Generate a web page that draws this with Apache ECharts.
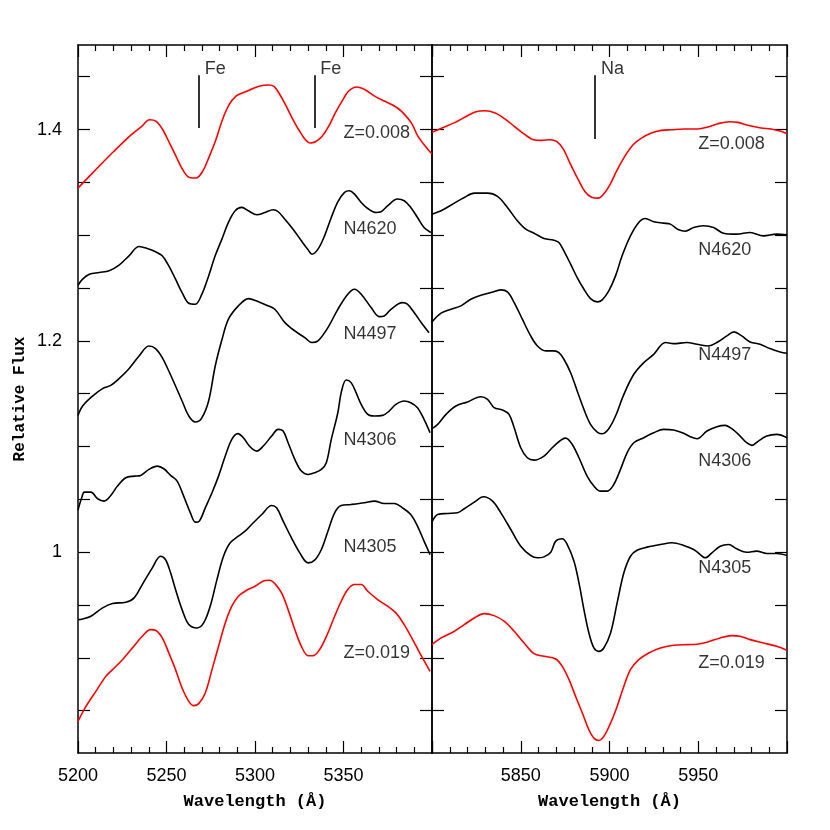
<!DOCTYPE html>
<html>
<head>
<meta charset="utf-8">
<script src="https://cdn.jsdelivr.net/npm/echarts@6/dist/echarts.min.js"></script>
<style>html,body{margin:0;padding:0;background:#fff}#c{width:830px;height:830px}</style>
</head>
<body>
<div id="c"></div>
<script>
// ---- data: [wavelength (Å), relative flux] ----
const leftZ008 = [[5200,1.3446],[5210,1.362],[5220,1.379],[5230,1.395],[5236,1.403],[5240.4,1.4093],[5244.2,1.4078],[5247.9,1.3998],[5251.7,1.3872],[5255.4,1.3746],[5259.2,1.3619],[5262.9,1.3547],[5266.7,1.3541],[5270.4,1.3604],[5274.2,1.3746],[5277.9,1.3903],[5281.6,1.4093],[5285.4,1.4235],[5289.1,1.4314],[5292.9,1.4346],[5296.6,1.4371],[5302.2,1.4409],[5307.9,1.4422],[5310.7,1.4409],[5313.5,1.4346],[5317.2,1.4235],[5321.0,1.4109],[5324.7,1.3998],[5328.5,1.3903],[5331.3,1.3872],[5334.1,1.3884],[5337.8,1.3935],[5341.6,1.4030],[5345.3,1.4156],[5349.1,1.4267],[5352.8,1.4362],[5357.5,1.4403],[5362.2,1.4377],[5367.8,1.4314],[5373.4,1.4267],[5379.0,1.4220],[5382.8,1.4172],[5388.4,1.4061],[5392.1,1.3935],[5397.8,1.3809],[5400,1.377]];
const leftN4620 = [[5200,1.2527],[5202.6,1.2584],[5206.4,1.2631],[5212.0,1.2647],[5217.6,1.2663],[5223.2,1.2716],[5228.8,1.2805],[5234.5,1.2893],[5239.1,1.2874],[5243.8,1.2843],[5247.6,1.2805],[5251.3,1.2710],[5255.1,1.2584],[5258.8,1.2457],[5262.6,1.2356],[5266.3,1.2347],[5270.0,1.2442],[5273.8,1.2615],[5277.5,1.2805],[5281.3,1.2963],[5285.0,1.3121],[5288.8,1.3231],[5292.5,1.3263],[5296.3,1.3231],[5301.0,1.3193],[5305.6,1.3215],[5310.3,1.3241],[5313.1,1.3222],[5316.9,1.3152],[5321.5,1.3057],[5326.2,1.2947],[5330.0,1.2862],[5332.2,1.2820],[5335.6,1.2868],[5339.3,1.2994],[5343.1,1.3168],[5346.8,1.3316],[5350.6,1.3405],[5353.4,1.3421],[5356.2,1.3389],[5360.0,1.3310],[5363.7,1.3253],[5368.4,1.3215],[5371.2,1.3222],[5374.9,1.3278],[5380.5,1.3342],[5384.3,1.3326],[5388.0,1.3263],[5391.8,1.3168],[5395.5,1.3073],[5399.3,1.3026]];
const leftN4497 = [[5200,1.1295],[5202.6,1.1384],[5208.2,1.1478],[5213.9,1.1548],[5218.5,1.1579],[5223.2,1.1643],[5228.8,1.1737],[5234.5,1.1857],[5240.1,1.1952],[5243.8,1.1927],[5247.6,1.1842],[5251.3,1.1715],[5255.1,1.1573],[5258.8,1.1431],[5262.6,1.1289],[5266.3,1.1232],[5269.7,1.1264],[5273.8,1.1431],[5277.5,1.1760],[5281.3,1.2010],[5285.0,1.2205],[5290.6,1.2331],[5296.3,1.2400],[5301.0,1.2378],[5306.6,1.2337],[5311.2,1.2299],[5316.9,1.2173],[5322.5,1.2094],[5328.1,1.2031],[5332.2,1.1984],[5335.6,1.2000],[5341.2,1.2126],[5346.8,1.2299],[5352.4,1.2442],[5356.2,1.2489],[5360.0,1.2442],[5365.6,1.2315],[5370.2,1.2230],[5373.0,1.2236],[5376.8,1.2299],[5383.3,1.2362],[5386.1,1.2347],[5389.9,1.2268],[5394.6,1.2157],[5398.3,1.2078]];
const leftN4306 = [[5200,1.040],[5202.0,1.0510],[5203.6,1.0569],[5207.3,1.0569],[5211.1,1.0506],[5214.8,1.0484],[5218.5,1.0537],[5222.3,1.0626],[5227.0,1.0705],[5231.7,1.0720],[5235.4,1.0727],[5240.1,1.0784],[5244.8,1.0815],[5248.5,1.0790],[5252.3,1.0727],[5256.0,1.0673],[5259.7,1.0531],[5263.5,1.0373],[5266.3,1.0285],[5268.5,1.0294],[5271.9,1.0420],[5275.7,1.0563],[5279.4,1.0720],[5283.2,1.0910],[5286.9,1.1068],[5290.3,1.1122],[5293.4,1.1084],[5297.2,1.0998],[5301.0,1.0957],[5304.7,1.1005],[5309.4,1.1099],[5313.1,1.1163],[5315.9,1.1147],[5318.7,1.1036],[5322.5,1.0878],[5326.2,1.0768],[5330.0,1.0736],[5333.7,1.0752],[5337.5,1.0784],[5340.3,1.0847],[5343.1,1.1068],[5346.8,1.1320],[5348.7,1.1510],[5351.5,1.1630],[5354.3,1.1605],[5357.1,1.1510],[5360.0,1.1399],[5363.7,1.1305],[5367.4,1.1289],[5372.1,1.1295],[5375.8,1.1336],[5379.6,1.1399],[5384.3,1.1431],[5388.0,1.1415],[5391.8,1.1368],[5395.5,1.1257],[5398.9,1.1131]];
const leftN4305 = [[5200,0.9362],[5202.6,0.9369],[5207.3,0.9394],[5213.9,0.9473],[5219.5,0.9514],[5227.0,0.9527],[5231.7,0.9568],[5236.3,0.9694],[5242.0,0.9852],[5246.6,0.9962],[5249.4,0.9931],[5252.3,0.9805],[5255.1,0.9647],[5258.8,0.9457],[5262.6,0.9315],[5267.2,0.9283],[5271.0,0.9331],[5274.7,0.9489],[5278.5,0.9741],[5282.2,0.9962],[5286.0,1.0089],[5290.6,1.0152],[5294.4,1.0199],[5298.1,1.0262],[5303.8,1.0357],[5309.4,1.0442],[5312.2,1.0420],[5315.9,1.0294],[5320.6,1.0136],[5325.3,0.9994],[5330.0,0.9899],[5333.7,0.9925],[5337.5,1.0026],[5341.2,1.0199],[5345.0,1.0373],[5348.7,1.0442],[5354.3,1.0452],[5361.8,1.0468],[5367.4,1.0484],[5373.0,1.0461],[5378.7,1.0461],[5383.3,1.0420],[5388.0,1.0357],[5391.8,1.0247],[5395.5,1.0105],[5398.9,0.9978]];
const leftZ019 = [[5200,0.8399],[5204.5,0.8541],[5210.1,0.8683],[5215.7,0.8825],[5219.5,0.8889],[5225.1,0.8983],[5230.7,0.9094],[5236.3,0.9205],[5241.0,0.9268],[5243.8,0.9261],[5247.6,0.9189],[5251.3,0.9047],[5255.1,0.8889],[5258.8,0.8715],[5262.6,0.8589],[5265.4,0.8548],[5268.2,0.8567],[5271.9,0.8668],[5275.7,0.8889],[5279.4,0.9110],[5283.2,0.9331],[5286.9,0.9489],[5290.6,0.9583],[5294.4,0.9631],[5300.0,0.9678],[5305.6,0.9732],[5308.4,0.9735],[5311.2,0.9703],[5315.0,0.9615],[5318.7,0.9457],[5322.5,0.9268],[5326.2,0.9110],[5330.0,0.9021],[5332.8,0.9021],[5336.5,0.9078],[5341.2,0.9236],[5345.0,0.9394],[5348.7,0.9536],[5352.4,0.9647],[5356.2,0.9694],[5360.0,0.9694],[5363.7,0.9631],[5369.3,0.9552],[5374.9,0.9489],[5379.6,0.9426],[5384.3,0.9315],[5388.0,0.9205],[5393.6,0.9031],[5398.9,0.8873]];

const rightZ008 = [[5800,1.3973],[5805.6,1.4014],[5813.1,1.4068],[5818.7,1.4118],[5824.3,1.4166],[5830.0,1.4178],[5835.6,1.4156],[5841.2,1.4099],[5846.8,1.4024],[5852.4,1.3951],[5857.1,1.3904],[5861.8,1.3897],[5866.5,1.3904],[5870.2,1.3888],[5874.0,1.3815],[5877.7,1.3683],[5882.4,1.3525],[5886.1,1.3414],[5889.9,1.3360],[5893.6,1.3351],[5896.4,1.3383],[5900.2,1.3477],[5903.9,1.3604],[5908.6,1.3746],[5913.3,1.3856],[5918.0,1.3919],[5923.6,1.3967],[5929.2,1.3992],[5934.8,1.3998],[5942.3,1.4005],[5949.8,1.4005],[5955.4,1.4024],[5961.0,1.4055],[5967.6,1.4074],[5972.3,1.4068],[5977.9,1.4040],[5985.4,1.4014],[5991.0,1.4005],[5996.6,1.3983],[6000,1.3961]];
const rightN4620 = [[5800,1.3199],[5805.1,1.3231],[5812.6,1.3304],[5818.2,1.3357],[5823.8,1.3398],[5831.3,1.3398],[5836.9,1.3367],[5842.5,1.3263],[5848.1,1.3136],[5852.8,1.3057],[5857.5,1.3019],[5863.1,1.2969],[5868.7,1.2953],[5871.5,1.2931],[5874.3,1.2852],[5878.1,1.2726],[5881.8,1.2599],[5885.6,1.2489],[5889.3,1.2400],[5893.1,1.2369],[5895.9,1.2388],[5899.6,1.2473],[5903.4,1.2615],[5907.1,1.2805],[5911.8,1.2994],[5916.5,1.3121],[5920.2,1.3158],[5924.9,1.3127],[5930.5,1.3114],[5934.3,1.3105],[5939.0,1.3051],[5942.7,1.3038],[5947.4,1.3073],[5953.0,1.3089],[5958.6,1.3073],[5964.2,1.3019],[5971.7,1.3010],[5979.2,1.3026],[5986.7,1.2994],[5994.2,1.3010],[6000,1.3004]];
const rightN4497 = [[5800,1.2179],[5805.1,1.2262],[5810.7,1.2299],[5816.3,1.2331],[5821.9,1.2394],[5827.5,1.2432],[5833.1,1.2457],[5838.8,1.2483],[5842.5,1.2464],[5846.3,1.2363],[5850.9,1.2205],[5855.6,1.2047],[5859.4,1.1952],[5864.1,1.1905],[5868.7,1.1905],[5871.5,1.1889],[5874.3,1.1826],[5878.1,1.1699],[5881.8,1.1526],[5885.6,1.1352],[5889.3,1.1210],[5893.1,1.1137],[5895.9,1.1121],[5899.6,1.1169],[5903.4,1.1289],[5908.1,1.1494],[5913.7,1.1684],[5919.3,1.1794],[5924.9,1.1873],[5931.5,1.1984],[5936.1,1.1974],[5943.6,1.1984],[5949.3,1.1968],[5955.8,1.1952],[5960.5,1.1984],[5966.1,1.2047],[5970.2,1.2085],[5974.5,1.2047],[5979.2,1.1990],[5984.8,1.1968],[5990.4,1.1927],[5996.1,1.1895],[6000,1.1883]];
const rightN4306 = [[5800,1.1169],[5803.2,1.1210],[5807.9,1.1305],[5813.5,1.1384],[5820.0,1.1422],[5827.5,1.1472],[5831.3,1.1447],[5835.0,1.1368],[5839.7,1.1346],[5843.4,1.1305],[5846.3,1.1178],[5850.0,1.0989],[5853.7,1.0894],[5857.5,1.0872],[5863.1,1.0910],[5868.7,1.1005],[5875.3,1.1080],[5879.0,1.1020],[5882.8,1.0894],[5887.4,1.0720],[5891.2,1.0626],[5894.9,1.0578],[5898.7,1.0578],[5902.4,1.0641],[5906.2,1.0784],[5909.9,1.0941],[5913.7,1.1036],[5919.3,1.1084],[5924.9,1.1131],[5930.5,1.1163],[5936.1,1.1156],[5941.8,1.1125],[5945.5,1.1093],[5949.3,1.1074],[5954.9,1.1147],[5960.5,1.1188],[5965.2,1.1200],[5968.9,1.1169],[5973.6,1.1099],[5977.3,1.1036],[5980.2,1.1011],[5983.9,1.1052],[5988.6,1.1099],[5994.2,1.1115],[6000,1.1084]];
const rightN4305 = [[5800,1.0285],[5803.2,1.0357],[5808.8,1.0367],[5814.4,1.0373],[5818.2,1.0411],[5823.8,1.0474],[5829,1.0525],[5834.1,1.0484],[5838.8,1.0373],[5844.4,1.0215],[5850.0,1.0057],[5855.6,0.9969],[5859.4,0.9947],[5863.1,0.9956],[5866.9,1.0000],[5869.7,1.0105],[5873.4,1.0127],[5876.2,1.0073],[5880.0,0.9915],[5882.8,0.9710],[5885.6,0.9457],[5888.4,0.9236],[5891.2,0.9094],[5894.0,0.9062],[5896.8,0.9094],[5900.6,0.9236],[5904.3,0.9520],[5908.1,0.9805],[5911.8,0.9962],[5915.5,1.0019],[5921.2,1.0048],[5928.7,1.0073],[5935.2,1.0089],[5941.8,1.0064],[5947.4,1.0026],[5951.1,0.9978],[5953.9,0.9947],[5957.7,0.9994],[5962.4,1.0057],[5967.1,1.0073],[5971.7,1.0032],[5977.3,1.0000],[5982.9,1.0010],[5988.6,0.9988],[5994.2,0.9988],[6000,0.9969]];
const rightZ019 = [[5800,0.9126],[5805.1,0.9189],[5812.6,0.9252],[5818.2,0.9315],[5823.8,0.9378],[5829.4,0.9419],[5835.0,0.9400],[5840.6,0.9347],[5846.3,0.9252],[5851.9,0.9141],[5857.5,0.9040],[5863.1,0.9015],[5869.7,0.8990],[5873.4,0.8920],[5877.2,0.8794],[5880.9,0.8636],[5884.7,0.8478],[5888.4,0.8320],[5891.2,0.8241],[5894.0,0.8219],[5896.8,0.8257],[5900.6,0.8383],[5904.3,0.8541],[5908.1,0.8731],[5911.8,0.8889],[5916.5,0.8983],[5922.1,0.9047],[5928.7,0.9094],[5936.1,0.9119],[5943.6,0.9126],[5949.3,0.9129],[5954.9,0.9148],[5962.4,0.9189],[5968.9,0.9211],[5973.6,0.9205],[5979.2,0.9173],[5986.7,0.9141],[5994.2,0.9110],[6000,0.9072]];

const spectrumNames = ['Z=0.008','N4620','N4497','N4306','N4305','Z=0.019'];
const spectrumColors = ['#ff0000','#000000','#000000','#000000','#000000','#ff0000'];
const leftSpectra = [leftZ008, leftN4620, leftN4497, leftN4306, leftN4305, leftZ019];
const rightSpectra = [rightZ008, rightN4620, rightN4497, rightN4306, rightN4305, rightZ019];

// label anchors (data units)
const leftLabelWave = 5350;
const leftLabelFlux = [1.3966, 1.3057, 1.2065, 1.1065, 1.0051, 0.9047];
const rightLabelWave = 5950;
const rightLabelFlux = [1.3865, 1.2861, 1.1864, 1.0862, 0.9852, 0.8952];

// absorption line markers
const leftLines = [{name:'Fe', wave:5268.2, from:1.4014, to:1.4513}, {name:'Fe', wave:5333.5, from:1.4014, to:1.4513}];
const rightLines = [{name:'Na', wave:5891.8, from:1.3910, to:1.4513}];
const lineTextFlux = 1.457;

const leftRange = [5200, 5400];
const rightRange = [5800, 6000];
const fluxRange = [0.81, 1.48];
const fluxTicks = [0.85,0.9,0.95,1.0,1.05,1.1,1.15,1.2,1.25,1.3,1.35,1.4,1.45];
const fluxLabels = [1, 1.2, 1.4];

// ---- chart ----
const BLACK = '#000';
const sansFont = 'Liberation Sans, Arial, sans-serif';
const titleFont = 'Liberation Mono, Courier New, monospace';

function xAx(gi, pos, range, showLabels, showMin) {
  return {
    type: 'value', gridIndex: gi, position: pos, min: range[0], max: range[1], interval: 50,
    axisLine: {show: true, onZero: false, lineStyle: {color: BLACK, width: 1.5}},
    axisTick: {show: true, inside: true, length: 12, lineStyle: {color: BLACK, width: 1.2}},
    minorTick: {show: true, splitNumber: 5, length: 6, lineStyle: {color: BLACK, width: 1.2}},
    axisLabel: {show: showLabels, showMinLabel: showMin, showMaxLabel: false, margin: 14,
      fontSize: 18, color: BLACK, fontFamily: sansFont, formatter: v => String(v)},
    splitLine: {show: false}, minorSplitLine: {show: false},
    name: showLabels ? 'Wavelength (Å)' : '', nameLocation: 'middle', nameGap: 40,
    nameTextStyle: {fontSize: 17, fontWeight: 'bold', color: BLACK, fontFamily: titleFont}
  };
}
function yAx(gi, pos, showLabels, showName) {
  return {
    type: 'value', gridIndex: gi, position: pos, min: fluxRange[0], max: fluxRange[1],
    axisLine: {show: true, onZero: false, lineStyle: {color: BLACK, width: 1.5}},
    axisTick: {show: true, inside: true, length: 12, customValues: fluxTicks, lineStyle: {color: BLACK, width: 1.2}},
    axisLabel: {show: showLabels, customValues: fluxLabels, margin: 16, fontSize: 18, color: BLACK,
      fontFamily: sansFont, formatter: v => String(v)},
    splitLine: {show: false},
    name: showName ? 'Relative Flux' : '', nameLocation: 'middle', nameGap: 50,
    nameTextStyle: {fontSize: 16, fontWeight: 'bold', color: BLACK, fontFamily: titleFont}
  };
}

const series = [];
function addPanel(spectra, xi, yi, labelWave, labelFlux, lines) {
  spectra.forEach((d, i) => {
    series.push({
      type: 'line', xAxisIndex: xi, yAxisIndex: yi, data: d, showSymbol: false, smooth: 0.35,
      lineStyle: {color: spectrumColors[i], width: 1.6}, silent: true, z: 3
    });
  });
  series.push({
    type: 'scatter', xAxisIndex: xi, yAxisIndex: yi, symbolSize: 0, silent: true, z: 5,
    data: spectrumNames.map((n, i) => ({value: [labelWave, labelFlux[i]], name: n})),
    label: {show: true, position: 'right', distance: 0, formatter: p => p.name,
      fontSize: 18, color: BLACK, fontFamily: sansFont}
  });
  series.push({
    type: 'scatter', xAxisIndex: xi, yAxisIndex: yi, symbolSize: 0, silent: true, z: 5,
    data: lines.map(l => ({value: [l.wave, lineTextFlux], name: l.name})),
    label: {show: true, position: 'right', distance: 6, formatter: p => p.name,
      fontSize: 18, color: BLACK, fontFamily: sansFont},
    markLine: {
      silent: true, symbol: 'none', label: {show: false},
      lineStyle: {color: BLACK, width: 1.6, type: 'solid'},
      data: lines.map(l => [{coord: [l.wave, l.from]}, {coord: [l.wave, l.to]}])
    }
  });
}
addPanel(leftSpectra, 0, 0, leftLabelWave, leftLabelFlux, leftLines);
addPanel(rightSpectra, 2, 2, rightLabelWave, rightLabelFlux, rightLines);

const option = {
  animation: false,
  backgroundColor: '#fff',
  grid: [
    {left: 78, top: 45, width: 354, height: 708},
    {left: 432, top: 45, width: 355, height: 708}
  ],
  xAxis: [
    xAx(0, 'bottom', leftRange, true, true),
    xAx(0, 'top', leftRange, false, false),
    xAx(1, 'bottom', rightRange, true, false),
    xAx(1, 'top', rightRange, false, false)
  ],
  yAxis: [
    yAx(0, 'left', true, true),
    yAx(0, 'right', false, false),
    yAx(1, 'left', false, false),
    yAx(1, 'right', false, false)
  ],
  series: series
};

const chart = echarts.init(document.getElementById('c'), null, {renderer: 'canvas'});
chart.setOption(option);
</script>
</body>
</html>
